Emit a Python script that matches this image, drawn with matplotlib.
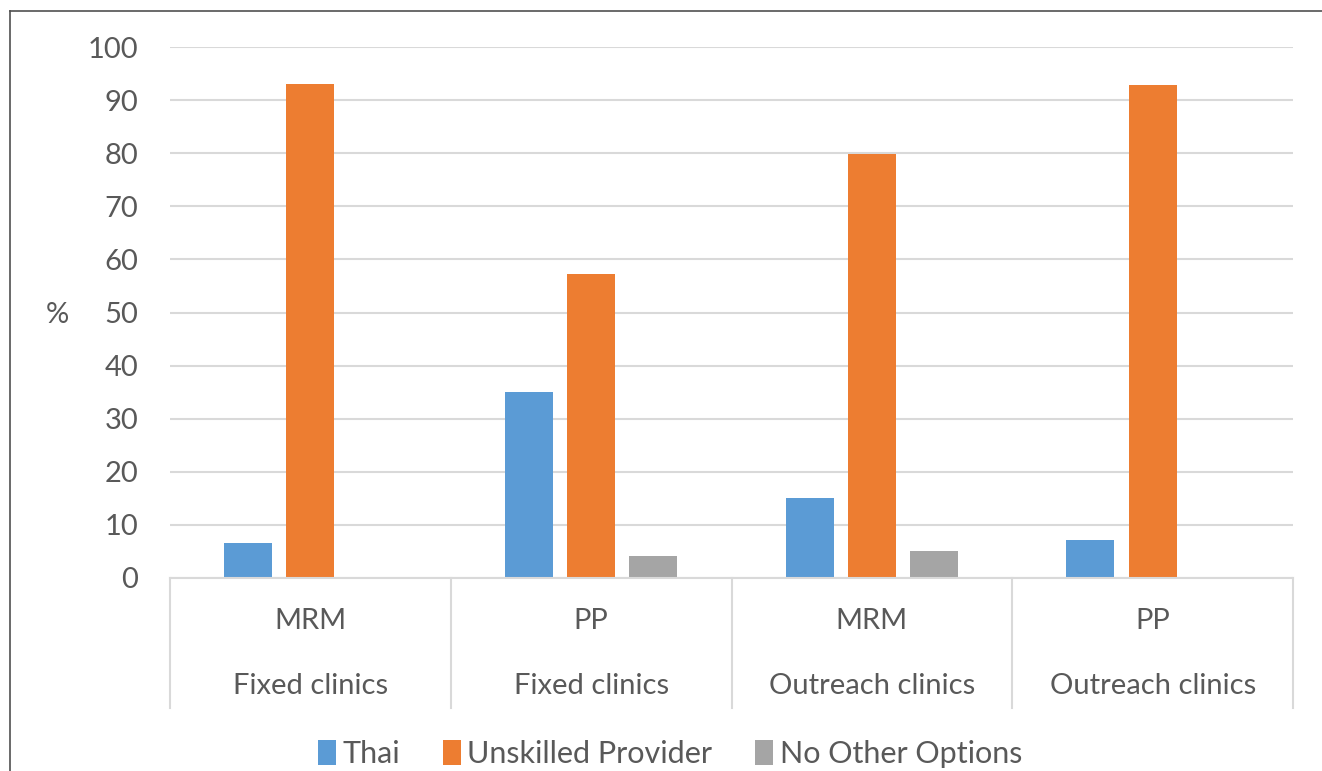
import matplotlib
matplotlib.use("Agg")
import matplotlib.pyplot as plt
from matplotlib.patches import Patch
import numpy as np

plt.rcParams['font.family'] = ['Lato', 'DejaVu Sans']

top_labels = ["MRM", "PP", "MRM", "PP"]
bottom_labels = ["Fixed clinics", "Fixed clinics", "Outreach clinics", "Outreach clinics"]
series_names = ["Thai", "Unskilled Provider", "No Other Options"]
thai = [6.6, 35.0, 15.1, 7.2]
unskilled = [93.1, 57.2, 79.9, 92.8]
no_other = [0.0, 4.2, 5.0, 0.0]
colors = ["#5b9bd5", "#ed7d31", "#a5a5a5"]
yticks = [0, 10, 20, 30, 40, 50, 60, 70, 80, 90, 100]

W, H = 1322, 771
fig = plt.figure(figsize=(W / 100, H / 100), dpi=100)
ax = fig.add_axes([170 / W, 1 - 578 / H, (1293 - 170) / W, (578 - 47) / H])

x = np.arange(len(top_labels))
w = 0.171
step = 0.222
for i, (vals, c) in enumerate(zip([thai, unskilled, no_other], colors)):
    ax.bar(x + (i - 1) * step, vals, width=w, color=c, zorder=3)

fs = 21
ax.set_xlim(-0.5, len(top_labels) - 0.5)
ax.set_ylim(0, 100)
ax.set_yticks(yticks)
ax.set_yticklabels([str(t) for t in yticks], fontsize=fs, color="#595959")
ax.yaxis.grid(True, color="#d9d9d9", linewidth=1.5, zorder=0)
ax.tick_params(axis='y', length=0, pad=23)
ax.tick_params(axis='x', length=0, labelbottom=False)
for s in ["top", "right", "left"]:
    ax.spines[s].set_visible(False)
ax.spines["bottom"].set_color("#d9d9d9")
ax.spines["bottom"].set_linewidth(1.5)
ax.spines["bottom"].set_zorder(4)

ax.text((57 - 170) / (1293 - 170), 1 - (315 - 47) / (578 - 47), "%", transform=ax.transAxes,
        fontsize=fs, color="#595959", ha="center", va="center")

# hierarchical category axis
trans = ax.get_xaxis_transform()
sep_bottom = -(708 - 578) / (578 - 47)
for b in np.arange(-0.5, len(top_labels), 1.0):
    ax.plot([b, b], [0, sep_bottom], transform=trans, color="#d9d9d9",
            linewidth=1.5, clip_on=False)
y_top = -(621 - 578) / (578 - 47)
y_bot = -(686 - 578) / (578 - 47)
for xi, t, bl in zip(x, top_labels, bottom_labels):
    ax.text(xi, y_top, t, transform=trans, ha="center", va="center",
            fontsize=fs, color="#595959")
    ax.text(xi, y_bot, bl, transform=trans, ha="center", va="center",
            fontsize=fs, color="#595959")

handles = [Patch(facecolor=c, edgecolor="none") for c in colors]
leg = fig.legend(handles, series_names, loc="center", bbox_to_anchor=(670 / W, 1 - 754 / H),
                 ncol=3, frameon=False, fontsize=22, handlelength=0.6, handleheight=0.85,
                 handletextpad=0.2, columnspacing=1.4)
for t in leg.get_texts():
    t.set_color("#595959")

# outer frame (left and top edges)
fig.add_artist(plt.Line2D([10 / W, 10 / W], [0, 1 - 11 / H], color="#505050", linewidth=1.2,
                          transform=fig.transFigure))
fig.add_artist(plt.Line2D([10 / W, 1], [1 - 11 / H, 1 - 11 / H], color="#505050", linewidth=1.2,
                          transform=fig.transFigure))

fig.savefig("out.png", dpi=100, facecolor="white")
